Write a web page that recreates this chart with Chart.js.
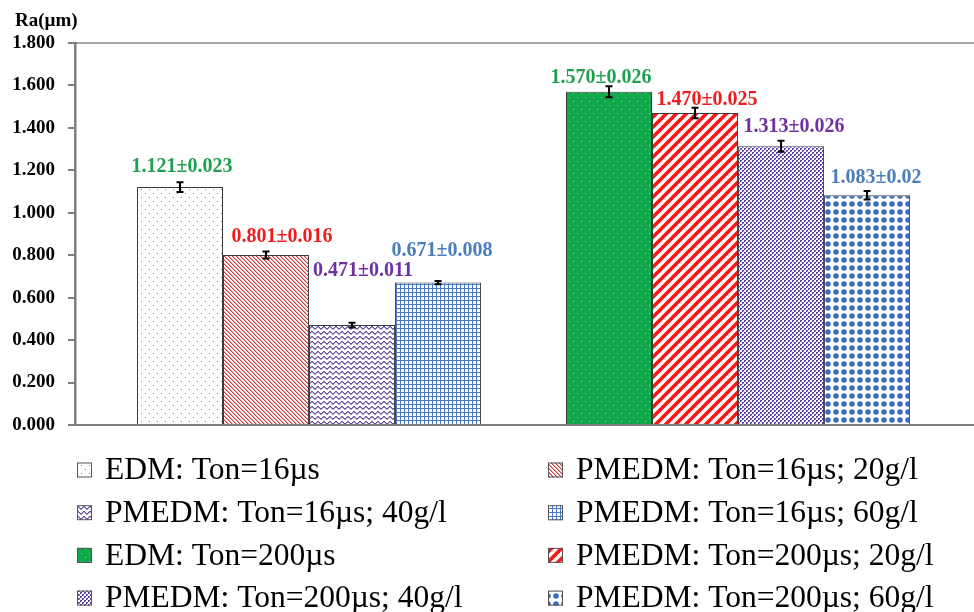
<!DOCTYPE html>
<html>
<head>
<meta charset="utf-8">
<script src="https://cdn.jsdelivr.net/npm/chart.js@4.4.0/dist/chart.umd.min.js"></script>
<style>
  html, body { margin: 0; padding: 0; background: #fff; }
  #wrap { width: 974px; height: 612px; }
</style>
</head>
<body>
<div id="wrap"><canvas id="ra-chart" width="974" height="612"></canvas></div>
<script>
// surface roughness Ra (µm), mean and deviation per condition
const seriesNames = [
  'EDM: Ton=16µs', 'PMEDM: Ton=16µs; 20g/l',
  'PMEDM: Ton=16µs; 40g/l', 'PMEDM: Ton=16µs; 60g/l',
  'EDM: Ton=200µs', 'PMEDM: Ton=200µs; 20g/l',
  'PMEDM: Ton=200µs; 40g/l', 'PMEDM: Ton=200µs; 60g/l'
];
const groupPos = [0, 1];   // Ton=16µs, Ton=200µs
const raTon16 = [1.121, 0.801, 0.471, 0.671];
const errTon16 = [0.023, 0.016, 0.011, 0.008];
const raTon200 = [1.570, 1.470, 1.313, 1.083];
const errTon200 = [0.026, 0.025, 0.026, 0.02];
const yTicks = [0, 0.2, 0.4, 0.6, 0.8, 1.0, 1.2, 1.4, 1.6, 1.8];

const SERIF = "'Liberation Serif', 'Times New Roman', serif";
const labelColors = ['#1ea04f', '#ee1c1c', '#7030a0', '#4a7ebb'];
// nudges for the value labels: [dx, px above the error bar]
const labelShift = [[2, 15], [16, 15], [11, 52], [4, 30], [-8, 8], [12, 8], [13, 14], [9, 13]];

function makePattern(w, h, bg, paint) {
  const c = document.createElement('canvas');
  c.width = w; c.height = h;
  const g = c.getContext('2d');
  g.fillStyle = bg;
  g.fillRect(0, 0, w, h);
  paint(g);
  return g.createPattern(c, 'repeat');
}
function px(g, color, pts) {
  g.fillStyle = color;
  pts.forEach(p => g.fillRect(p[0], p[1], 1, 1));
}

const fills = [
  // sparse green dots
  makePattern(8, 8, '#ffffff', g => px(g, '#48ad78', [[1, 1], [5, 5]])),
  // fine red downward diagonal
  makePattern(4, 4, '#ffffff', g => {
    px(g, '#c83a3a', [[0, 0], [1, 1], [2, 2], [3, 3]]);
    px(g, '#e6a0a0', [[1, 0], [2, 1], [3, 2], [0, 3]]);
  }),
  // purple zigzag
  makePattern(6, 5, '#ffffff', g => {
    px(g, '#6550a6', [[0, 1], [1, 2], [2, 3], [3, 3], [4, 2], [5, 1]]);
    px(g, '#a898cc', [[0, 2], [1, 3], [2, 4], [3, 4], [4, 3], [5, 2]]);
  }),
  // blue small grid
  makePattern(4, 4, '#ffffff', g => {
    g.fillStyle = '#4a78c8';
    g.fillRect(0, 0, 4, 1);
    g.fillRect(0, 0, 1, 4);
  }),
  // solid green with light dots
  makePattern(8, 8, '#10a84a', g => px(g, '#7ad69b', [[1, 1], [5, 5]])),
  // wide red upward diagonal
  makePattern(10, 10, '#ffffff', g => {
    g.strokeStyle = '#ff1414';
    g.lineWidth = 3.6;
    [[-5, 5, 5, -5], [0, 10, 10, 0], [5, 15, 15, 5]].forEach(s => {
      g.beginPath(); g.moveTo(s[0], s[1]); g.lineTo(s[2], s[3]); g.stroke();
    });
  }),
  // dense purple confetti
  makePattern(4, 4, '#ffffff', g => {
    px(g, '#5a3e9c', [[0, 0], [1, 0], [0, 1], [2, 2], [3, 2], [2, 3]]);
    px(g, '#b3a5d6', [[1, 1], [3, 3]]);
  }),
  // blue dots
  makePattern(8, 8, '#ffffff', g => {
    g.fillStyle = '#3d6fc0';
    g.beginPath(); g.arc(4, 4, 2.8, 0, Math.PI * 2); g.fill();
  })
];

const datasets = seriesNames.map((name, i) => {
  const hi = i >= 4;
  const k = i % 4;
  const v = hi ? raTon200[k] : raTon16[k];
  return {
    label: name,
    data: [{ x: groupPos[0], y: hi ? null : v }, { x: groupPos[1], y: hi ? v : null }],
    errorBar: hi ? errTon200[k] : errTon16[k],
    backgroundColor: fills[i],
    borderColor: '#3a3a3a',
    borderWidth: 1,
    skipNull: true,
    categoryPercentage: 0.802,
    barPercentage: 1
  };
});

// error bars, value labels, frame, axis title and legend
const raDecor = {
  id: 'raDecor',
  afterDatasetsDraw(chart) {
    const ctx = chart.ctx;
    const ys = chart.scales.y;
    const area = chart.chartArea;
    ctx.save();
    ctx.strokeStyle = '#4a4a4a';
    ctx.lineWidth = 1.2;
    ctx.beginPath();
    ctx.moveTo(area.left, area.top);
    ctx.lineTo(area.right, area.top);
    ctx.stroke();

    chart.data.datasets.forEach((ds, i) => {
      const meta = chart.getDatasetMeta(i);
      ds.data.forEach((pt, j) => {
        if (pt.y == null) return;
        const bar = meta.data[j];
        const yTop = ys.getPixelForValue(pt.y + ds.errorBar);
        const yBot = ys.getPixelForValue(pt.y - ds.errorBar);
        ctx.strokeStyle = '#000';
        ctx.lineWidth = 2;
        ctx.beginPath();
        ctx.moveTo(bar.x, yTop); ctx.lineTo(bar.x, yBot);
        ctx.moveTo(bar.x - 3.5, yTop); ctx.lineTo(bar.x + 3.5, yTop);
        ctx.moveTo(bar.x - 3.5, yBot); ctx.lineTo(bar.x + 3.5, yBot);
        ctx.stroke();

        const sh = labelShift[i];
        ctx.fillStyle = labelColors[i % 4];
        ctx.font = 'bold 20px ' + SERIF;
        ctx.textAlign = 'center';
        ctx.textBaseline = 'middle';
        ctx.fillText(pt.y.toFixed(3) + '±' + String(ds.errorBar), bar.x + sh[0], yTop - sh[1]);
      });
    });
    ctx.restore();
  },
  afterDraw(chart) {
    const ctx = chart.ctx;
    ctx.save();
    ctx.fillStyle = '#000';
    ctx.font = 'bold 19px ' + SERIF;
    ctx.textAlign = 'left';
    ctx.textBaseline = 'middle';
    ctx.fillText('Ra(µm)', 15, 21);

    const colX = [77, 548];
    const rowY0 = 470, rowStep = 42.7, box = 15;
    ctx.font = '31.5px ' + SERIF;
    chart.data.datasets.forEach((ds, i) => {
      const x = colX[i % 2];
      const y = rowY0 + Math.floor(i / 2) * rowStep;
      ctx.fillStyle = ds.backgroundColor;
      ctx.fillRect(x, y - box / 2, box, box);
      ctx.strokeStyle = '#555';
      ctx.lineWidth = 1;
      ctx.strokeRect(x + 0.5, y - box / 2 + 0.5, box - 1, box - 1);
      ctx.fillStyle = '#000';
      ctx.fillText(ds.label, x + box + 13, y + 1);
    });
    ctx.restore();
  }
};

new Chart(document.getElementById('ra-chart'), {
  type: 'bar',
  data: { datasets: datasets },
  plugins: [raDecor],
  options: {
    responsive: false,
    animation: false,
    layout: { padding: { left: 12, top: 43, right: 0, bottom: 187 } },
    plugins: { legend: { display: false }, tooltip: { enabled: false } },
    scales: {
      x: {
        type: 'linear',
        offset: false,
        bounds: 'data',
        min: -0.5455,
        max: 1.55,
        afterBuildTicks: s => { s.ticks = groupPos.map(v => ({ value: v })); },
        ticks: { display: false },
        grid: { display: false, drawTicks: false, offset: false },
        border: { display: true, color: '#808080', width: 2 }
      },
      y: {
        min: 0,
        max: 1.8,
        afterBuildTicks: s => { s.ticks = yTicks.map(v => ({ value: v })); },
        afterFit: s => { s.width = 63; },
        ticks: {
          color: '#000',
          padding: 13,
          font: { family: SERIF, size: 19, weight: 'bold' },
          callback: v => Number(v).toFixed(3)
        },
        grid: { drawOnChartArea: false, drawTicks: true, tickLength: 7, color: '#808080', lineWidth: 2 },
        border: { display: true, color: '#808080', width: 2.5 }
      }
    }
  }
});
</script>
</body>
</html>
